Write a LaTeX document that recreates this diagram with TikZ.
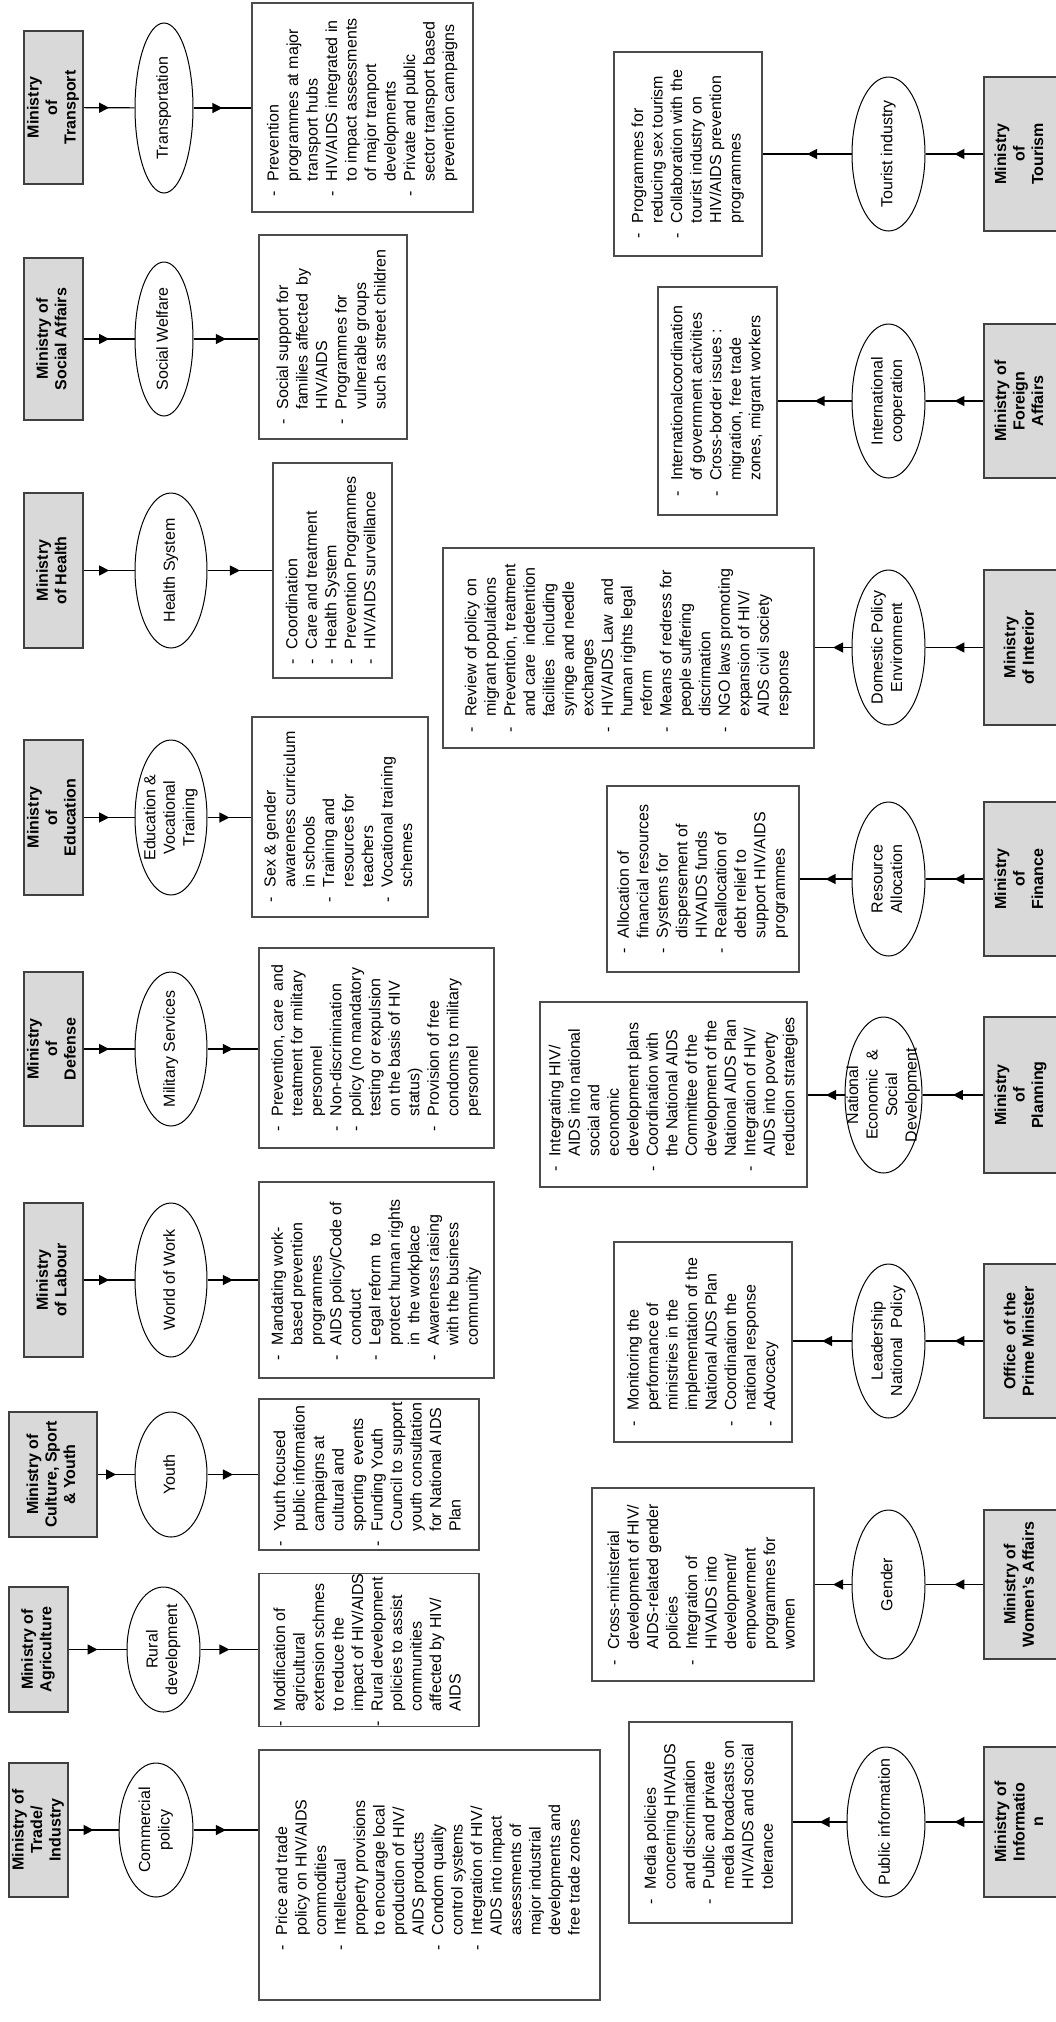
\documentclass[tikz,border=0pt]{standalone}
\usepackage{fontspec}
\setmainfont{Liberation Sans}
\usepackage{graphicx}
\usetikzlibrary{arrows.meta,decorations.markings,shapes.geometric}
\definecolor{minfill}{rgb}{.85,.85,.85}

% text turned to read upwards
\newcommand{\vtext}[1]{\rotatebox{90}{\begin{tabular}{@{}c@{}}#1\end{tabular}}}
\newcommand{\vlist}[1]{\rotatebox{90}{\begin{tabular}{@{}l@{\hspace{10pt}}l@{}}#1\end{tabular}}}

\begin{document}
\begin{tikzpicture}[x=1pt,y={(0pt,-1pt)},% one unit = one pixel of the page, y runs down
					every node/.style={
						font=\fontsize{16}{19.5}\selectfont
						},
					ministry/.style={rectangle,draw=black!75,line width=1.5pt,fill=minfill,inner sep=0pt,
						font=\fontsize{16}{18.5}\selectfont\bfseries},
					area/.style={ellipse,draw=black,line width=1pt,inner sep=0pt},
					tasks/.style={rectangle,draw=black!70,line width=1.2pt,inner sep=0pt},
					every edge/.style={draw,line width=1.2pt,postaction={decorate},% arrow head half way
						decoration={markings,mark=at position 0.5 with {\arrow{Triangle[length=10pt,width=10pt]}}}}
					]
\useasboundingbox (0,0) rectangle (1056,2022);

% upper row
\node[ministry,minimum width=59pt,minimum height=153pt](M1) at (53.5,107.5){\vtext{Ministry\\ of\\ Transport}};
\node[area,minimum width=58pt,minimum height=170pt,label=center:{\vtext{Transportation}}](E1) at (164,108){};
\node[tasks,minimum width=221pt,minimum height=209pt](T1) at (362.5,107.5){\vlist{
- & Prevention\\ & programmes at major\\ & transport hubs\\
- & HIV/AIDS integrated in\\ & to impact assessments\\ & of major tranport\\ & developments\\
- & Private and public\\ & sector transport based\\ & prevention campaigns}};

\node[ministry,minimum width=59pt,minimum height=162pt](M2) at (53.5,339){\vtext{Ministry of\\ Social Affairs}};
\node[area,minimum width=58pt,minimum height=154pt,label=center:{\vtext{Social Welfare}}](E2) at (164,339){};
\node[tasks,minimum width=148pt,minimum height=204pt](T2) at (333,337){\vlist{
- & Social support for\\ & families affected\ \ by\\ & HIV/AIDS\\
- & Programmes for\\ & vulnerable groups\\ & such as street children}};

\node[ministry,minimum width=59pt,minimum height=155pt](M3) at (53.5,570.5){\vtext{Ministry\\ of Health}};
\node[area,minimum width=72pt,minimum height=155pt,label=center:{\vtext{Health System}}](E3) at (171,570.5){};
\node[tasks,minimum width=119pt,minimum height=215pt](T3) at (332.5,570.5){\vlist{
- & Coordination\\ - & Care and treatment\\ - & Health System\\
- & Prevention Programmes\\ - & HIV/AIDS surveillance}};

\node[ministry,minimum width=59pt,minimum height=155pt](M4) at (53.5,817.5){\vtext{Ministry\\ of\\ Education}};
\node[area,minimum width=72pt,minimum height=155pt,label=center:{\vtext{Education \&\\ Vocational\\ Training}}](E4) at (171,817.5){};
\node[tasks,minimum width=176pt,minimum height=200pt](T4) at (340,817){\vlist{
- & Sex \& gender\\ & awareness curriculum\\ & in schools\\
- & Training and\\ & resources for\\ & teachers\\
- & Vocational training\\ & schemes}};

\node[ministry,minimum width=59pt,minimum height=154pt](M5) at (53.5,1049){\vtext{Ministry\\ of\\ Defense}};
\node[area,minimum width=72pt,minimum height=154pt,label=center:{\vtext{Military Services}}](E5) at (171,1049){};
\node[tasks,minimum width=235pt,minimum height=200pt](T5) at (376.5,1048){\vlist{
- & Prevention, care\ \ and\\ & treatment for military\\ & personnel\\
- & Non-discrimination\\ - & policy (no mandatory\\ & testing or expulsion\\ & on the basis of HIV\\ & status)\\
- & Provision of free\\ & condoms to military\\ & personnel}};

\node[ministry,minimum width=59pt,minimum height=154pt](M6) at (53.5,1280){\vtext{Ministry\\ of Labour}};
\node[area,minimum width=72pt,minimum height=154pt,label=center:{\vtext{World of Work}}](E6) at (171,1280){};
\node[tasks,minimum width=235pt,minimum height=196pt](T6) at (376.5,1280){\vlist{
- & Mandating work-\\ & based prevention\\ & programmes\\
- & AIDS policy/Code of\\ & conduct\\
- & Legal reform\ \ to\\ & protect human rights\\ & in\ \ the workplace\\
- & Awareness raising\\ & with the business\\ & community}};

\node[ministry,minimum width=88pt,minimum height=125pt](M7) at (53,1474.5){\vtext{Ministry of\\ Culture, Sport\\ \& Youth}};
\node[area,minimum width=72pt,minimum height=125pt,label=center:{\vtext{Youth}}](E7) at (171,1474.5){};
\node[tasks,minimum width=220pt,minimum height=151pt](T7) at (369,1474.5){\vlist{
- & Youth focused\\ & public information\\ & campaigns at\\ & cultural and\\ & sporting\ \ events\\
- & Funding Youth\\ & Council to support\\ & youth consultation\\ & for National AIDS\\ & Plan}};

\node[ministry,minimum width=59pt,minimum height=125pt](M8) at (38.5,1649.5){\vtext{Ministry of\\ Agriculture}};
\node[area,minimum width=73pt,minimum height=125pt,label=center:{\vtext{Rural\\ development}}](E8) at (163.5,1649.5){};
\node[tasks,minimum width=220pt,minimum height=150pt](T8) at (369,1650){\vlist{
- & Modification of\\ & agricultural\\ & extension schmes\\ & to reduce the\\ & impact of HIV/AIDS\\
- & Rural development\\ & policies to assist\\ & communities\\ & affected by HIV/\\ & AIDS}};

\node[ministry,minimum width=59pt,minimum height=134pt](M9) at (38.5,1830){\vtext{Ministry of\\ Trade/\\ Industry}};
\node[area,minimum width=74pt,minimum height=134pt,label=center:{\vtext{Commercial\\ policy}}](E9) at (156,1830){};
\node[tasks,minimum width=341pt,minimum height=250pt](T9) at (429.5,1875){\vlist{
- & Price and trade\\ & policy on HIV/AIDS\\ & commodities\\
- & Intellectual\\ & property provisions\\ & to encourage local\\ & production of HIV/\\ & AIDS products\\
- & Condom quality\\ & control systems\\
- & Integration of HIV/\\ & AIDS into impact\\ & assessments of\\ & major industrial\\ & developments and\\ & free trade zones}};

% lower row
\node[ministry,minimum width=74pt,minimum height=154pt](M10) at (1021,154){\vtext{Ministry\\ of\\ Tourism}};
\node[area,minimum width=73pt,minimum height=154pt,label=center:{\vtext{Tourist industry}}](E10) at (888.5,154){};
\node[tasks,minimum width=148pt,minimum height=204pt](T10) at (688,154){\vlist{
- & Programmes for\\ & reducing sex tourism\\
- & Collaboration with the\\ & tourist industry on\\ & HIV/AIDS prevention\\ & programmes}};

\node[ministry,minimum width=74pt,minimum height=154pt](M11) at (1021,401){\vtext{Ministry of\\ Foreign\\ Affairs}};
\node[area,minimum width=73pt,minimum height=154pt,label=center:{\vtext{International\\ cooperation}}](E11) at (888.5,401){};
\node[tasks,minimum width=119pt,minimum height=228pt](T11) at (717.5,401){\vlist{
- & Internationalcoordination\\ & of government activities\\
- & Cross-border issues :\\ & migration, free trade\\ & zones, migrant workers}};

\node[ministry,minimum width=74pt,minimum height=155pt](M12) at (1021,647.5){\vtext{Ministry\\ of Interior}};
\node[area,minimum width=73pt,minimum height=155pt,label=center:{\vtext{Domestic Policy\\ Environment}}](E12) at (888.5,647.5){};
\node[tasks,minimum width=371pt,minimum height=200pt](T12) at (628.5,648){\vlist{
- & Review of policy on\\ & migrant populations\\
- & Prevention, treatment\\ & and care\ \ indetention\\ & facilities\ \ \ including\\ & syringe and needle\\ & exchanges\\
- & HIV/AIDS Law\ \ and\\ & human rights legal\\ & reform\\
- & Means of redress for\\ & people suffering\\ & discrimation\\
- & NGO laws promoting\\ & expansion of HIV/\\ & AIDS civil society\\ & response}};

\node[ministry,minimum width=74pt,minimum height=154pt](M13) at (1021,879){\vtext{Ministry\\ of\\ Finance}};
\node[area,minimum width=73pt,minimum height=154pt,label=center:{\vtext{Resource\\ Allocation}}](E13) at (888.5,879){};
\node[tasks,minimum width=192pt,minimum height=186pt](T13) at (703,879){\vlist{
- & Allocation of\\ & financial resources\\
- & Systems for\\ & dispersement of\\ & HIVAIDS funds\\
- & Reallocation of\\ & debt relief to\\ & support HIV/AIDS\\ & programmes}};

\node[ministry,minimum width=74pt,minimum height=156pt](M14) at (1021,1095){\vtext{Ministry\\ of\\ Planning}};
\node[area,minimum width=77pt,minimum height=156pt,label=center:{\vtext{National\\ Economic\ \ \&\\ Social\\ Development}}](E14) at (883.5,1095){};
\node[tasks,minimum width=267pt,minimum height=185pt](T14) at (673.5,1094.5){\vlist{
- & Integrating HIV/\\ & AIDS into national\\ & social and\\ & economic\\ & development plans\\
- & Coordination with\\ & the National AIDS\\ & Committee of the\\ & development of the\\ & National AIDS Plan\\
- & Integration of HIV/\\ & AIDS into poverty\\ & reduction strategies}};

\node[ministry,minimum width=74pt,minimum height=154pt](M15) at (1021,1341){\vtext{Office\ \ of the\\ Prime Minister}};
\node[area,minimum width=73pt,minimum height=154pt,label=center:{\vtext{Leadership\\ National\ \ Policy}}](E15) at (888.5,1341){};
\node[tasks,minimum width=178pt,minimum height=200pt](T15) at (703,1342){\vlist{
- & Monitoring the\\ & performance of\\ & ministries in the\\ & implementation of the\\ & National AIDS Plan\\
- & Coordination the\\ & national response\\
- & Advocacy}};

\node[ministry,minimum width=74pt,minimum height=149pt](M16) at (1021,1584.5){\vtext{Ministry of\\ Women's Affairs}};
\node[area,minimum width=73pt,minimum height=149pt,label=center:{\vtext{Gender}}](E16) at (888.5,1584.5){};
\node[tasks,minimum width=222pt,minimum height=193pt](T16) at (703,1584.5){\vlist{
- & Cross-ministerial\\ & development of HIV/\\ & AIDS-related gender\\ & policies\\
- & Integration of\\ & HIVAIDS into\\ & development/\\ & empowerment\\ & programmes for\\ & women}};

\node[ministry,minimum width=74pt,minimum height=150pt](M17) at (1021,1822){\vtext{Ministry of\\ Informatio\\ n}};
\node[area,minimum width=78pt,minimum height=150pt,label=center:{\vtext{Public information}}](E17) at (886,1822){};
\node[tasks,minimum width=163pt,minimum height=201pt](T17) at (710.5,1822.5){\vlist{
- & Media policies\\ & concerning HIVAIDS\\ & and discrimination\\
- & Public and private\\ & media broadcasts on\\ & HIV/AIDS and social\\ & tolerance}};

\path
(M1)edge (E1) (E1)edge (E1 -| T1.west)
(M2)edge (E2) (E2)edge (E2 -| T2.west)
(M3)edge (E3) (E3)edge (E3 -| T3.west)
(M4)edge (E4) (E4)edge (E4 -| T4.west)
(M5)edge (E5) (E5)edge (E5 -| T5.west)
(M6)edge (E6) (E6)edge (E6 -| T6.west)
(M7)edge (E7) (E7)edge (E7 -| T7.west)
(M8)edge (E8) (E8)edge (E8 -| T8.west)
(M9)edge (E9) (E9)edge (E9 -| T9.west)
(M10)edge (E10) (E10)edge (E10 -| T10.east)
(M11)edge (E11) (E11)edge (E11 -| T11.east)
(M12)edge (E12) (E12)edge (E12 -| T12.east)
(M13)edge (E13) (E13)edge (E13 -| T13.east)
(M14)edge (E14) (E14)edge (E14 -| T14.east)
(M15)edge (E15) (E15)edge (E15 -| T15.east)
(M16)edge (E16) (E16)edge (E16 -| T16.east)
(M17)edge (E17) (E17)edge (E17 -| T17.east)
;
\end{tikzpicture}
\end{document}
